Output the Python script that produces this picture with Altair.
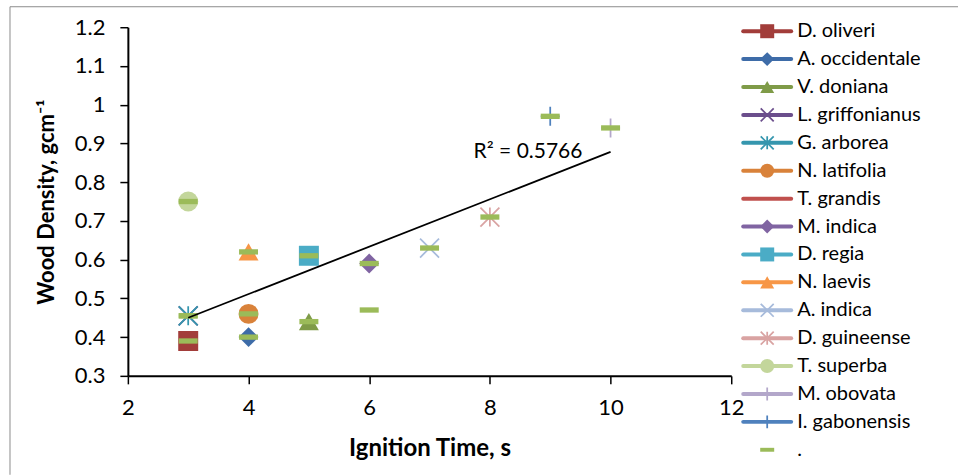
import altair as alt
import pandas as pd

# ---------------- data ----------------
species = ["D. oliveri", "A. occidentale", "V. doniana", "L. griffonianus",
           "G. arborea", "N. latifolia", "T. grandis", "M. indica", "D. regia",
           "N. laevis", "A. indica", "D. guineense", "T. superba", "M. obovata",
           "I. gabonensis"]
ignition_time = [3, 4, 5, 3, 3, 4, 6, 6, 5, 4, 7, 8, 3, 10, 9]
wood_density = [0.39, 0.40, 0.44, 0.455, 0.455, 0.46, 0.47, 0.59, 0.61, 0.62,
                0.63, 0.71, 0.75, 0.94, 0.97]
dot_series = "."
r2_text = "R² = 0.5766"
x_ticks = [2, 4, 6, 8, 10, 12]
y_ticks = [0.3, 0.4, 0.5, 0.6, 0.7, 0.8, 0.9, 1.0, 1.1, 1.2]

# ---------------- styles ----------------
series_colors = ["#A23D3A", "#3E6CA8", "#7F9B48", "#6B4E8C", "#3596AE",
                 "#D9823A", "#C0504D", "#8064A2", "#4BACC6", "#F79646",
                 "#A7BBDB", "#D9A3A2", "#C3D69B", "#B3A7CA", "#4F81BD"]
dot_color = "#9BBB59"

X_PATH = "M-1,-1L1,1M-1,1L1,-1"
AST_PATH = "M-1,-1L1,1M-1,1L1,-1M0,-1L0,1"
PLUS_PATH = "M-1,0L1,0M0,-1L0,1"
DASH_PATH = "M-1,-0.28L1,-0.28L1,0.28L-1,0.28Z"
NONE_PATH = "M0,0L0,0"

marker_style = {
    "D. oliveri": ("square", "filled"),
    "A. occidentale": ("diamond", "filled"),
    "V. doniana": ("triangle-up", "filled"),
    "L. griffonianus": (X_PATH, "stroked"),
    "G. arborea": (AST_PATH, "stroked"),
    "N. latifolia": ("circle", "filled"),
    "T. grandis": (NONE_PATH, "none"),
    "M. indica": ("diamond", "filled"),
    "D. regia": ("square", "filled"),
    "N. laevis": ("triangle-up", "filled"),
    "A. indica": (X_PATH, "stroked"),
    "D. guineense": (AST_PATH, "stroked"),
    "T. superba": ("circle", "filled"),
    "M. obovata": (PLUS_PATH, "stroked"),
    "I. gabonensis": (PLUS_PATH, "stroked"),
}

FONT = "Lato"

df = pd.DataFrame({"species": species, "t": ignition_time, "d": wood_density})
df["kind"] = [marker_style[s][1] for s in species]

names = species + [dot_series]
leg_df = pd.DataFrame({"name": names,
                       "kind": [marker_style[s][1] for s in species] + ["dash"]})

cscale = alt.Scale(domain=names, range=series_colors + [dot_color])
sscale = alt.Scale(domain=species, range=[marker_style[s][0] for s in species])
xscale = alt.Scale(domain=[2, 12], nice=False, zero=False)
yscale = alt.Scale(domain=[0.3, 1.2], nice=False, zero=False)

x_enc = alt.X("t:Q", scale=xscale,
              axis=alt.Axis(values=x_ticks, tickCount=len(x_ticks), format="d",
                            title="Ignition Time, s", labelFlush=False,
                            labelOverlap=False, titlePadding=18, labelPadding=14,
                            titleFontSize=24))
y_enc = alt.Y("d:Q", scale=yscale,
              axis=alt.Axis(values=y_ticks, tickCount=len(y_ticks), format=".1~f",
                            title="Wood Density, gcm⁻¹", labelFlush=False,
                            labelOverlap=False, titlePadding=16, labelPadding=15,
                            titleFontSize=22))
x_plain = alt.X("t:Q", scale=xscale)
y_plain = alt.Y("d:Q", scale=yscale)

base = alt.Chart(df)

filled = base.transform_filter("datum.kind == 'filled'").mark_point(
    filled=True, size=400, opacity=1).encode(
    x=x_enc, y=y_enc,
    color=alt.Color("species:N", scale=cscale, legend=None),
    shape=alt.Shape("species:N", scale=sscale, legend=None))

stroked = base.transform_filter("datum.kind == 'stroked'").mark_point(
    filled=False, size=361, strokeWidth=1.75, opacity=1).encode(
    x=x_plain, y=y_plain,
    color=alt.Color("species:N", scale=cscale, legend=None),
    shape=alt.Shape("species:N", scale=sscale, legend=None))

dashes = base.mark_point(filled=True, size=361, shape=DASH_PATH,
                         color=dot_color, opacity=1).encode(x=x_plain, y=y_plain)

trend = base.transform_regression("t", "d").mark_line(
    color="black", strokeWidth=1.8).encode(x=x_plain, y=y_plain)

r2 = alt.Chart(pd.DataFrame({"label": [r2_text]})).mark_text(
    align="left", baseline="middle", font=FONT, fontSize=21, color="black").encode(
    x=alt.datum(7.73), y=alt.datum(0.877), text="label:N")

one = alt.Chart(pd.DataFrame({"a": [0]}))
border_top = one.mark_rule(color="#8c8c8c", strokeWidth=1).encode(
    x=alt.value(-118), x2=alt.value(831), y=alt.value(-20.5))
border_left = one.mark_rule(color="#8c8c8c", strokeWidth=1).encode(
    x=alt.value(-118), y=alt.value(-20.5), y2=alt.value(448))

plot = alt.layer(border_top, border_left, filled, stroked, dashes, trend, r2).properties(
    width=604, height=349)

# ---------------- legend panel ----------------
ly = alt.Y("name:N", sort=names,
           scale=alt.Scale(type="point", padding=0, range=[4, 423]), axis=None)
lbase = alt.Chart(leg_df)
lcolor = alt.Color("name:N", scale=cscale, legend=None)

leg_lines = lbase.transform_filter("datum.kind != 'dash'").mark_rule(
    strokeWidth=4, strokeCap="round").encode(
    x=alt.value(2), x2=alt.value(50), y=ly, color=lcolor)
leg_filled = lbase.transform_filter("datum.kind == 'filled'").mark_point(
    filled=True, size=196, opacity=1).encode(
    x=alt.value(26), y=ly, color=lcolor,
    shape=alt.Shape("name:N", scale=sscale, legend=None))
leg_stroked = lbase.transform_filter("datum.kind == 'stroked'").mark_point(
    filled=False, size=169, strokeWidth=1.75, opacity=1).encode(
    x=alt.value(26), y=ly, color=lcolor,
    shape=alt.Shape("name:N", scale=sscale, legend=None))
leg_dash = lbase.transform_filter("datum.kind == 'dash'").mark_point(
    filled=True, size=196, shape=DASH_PATH, color=dot_color, opacity=1).encode(
    x=alt.value(26), y=ly)
leg_text = lbase.mark_text(align="left", baseline="middle", font=FONT,
                           fontSize=20, color="black").encode(
    x=alt.value(56), y=ly, text="name:N")

legend = alt.layer(leg_lines, leg_filled, leg_stroked, leg_dash, leg_text).properties(
    width=210, height=427)

chart = alt.hconcat(plot, legend, spacing=10, bounds="flush").properties(
    padding={"left": 9, "top": 6, "right": 0, "bottom": 0},
    background="white"
).configure_view(stroke=None).configure_axis(
    grid=False, domainColor="black", domainWidth=2, tickColor="black",
    tickWidth=1.5, tickSize=8, labelFont=FONT, labelFontSize=22,
    labelColor="black", titleFont=FONT, titleFontSize=22, titleFontWeight="bold",
    titleColor="black"
)

chart.save("out.html", embed_options={"renderer": "svg", "actions": False})
